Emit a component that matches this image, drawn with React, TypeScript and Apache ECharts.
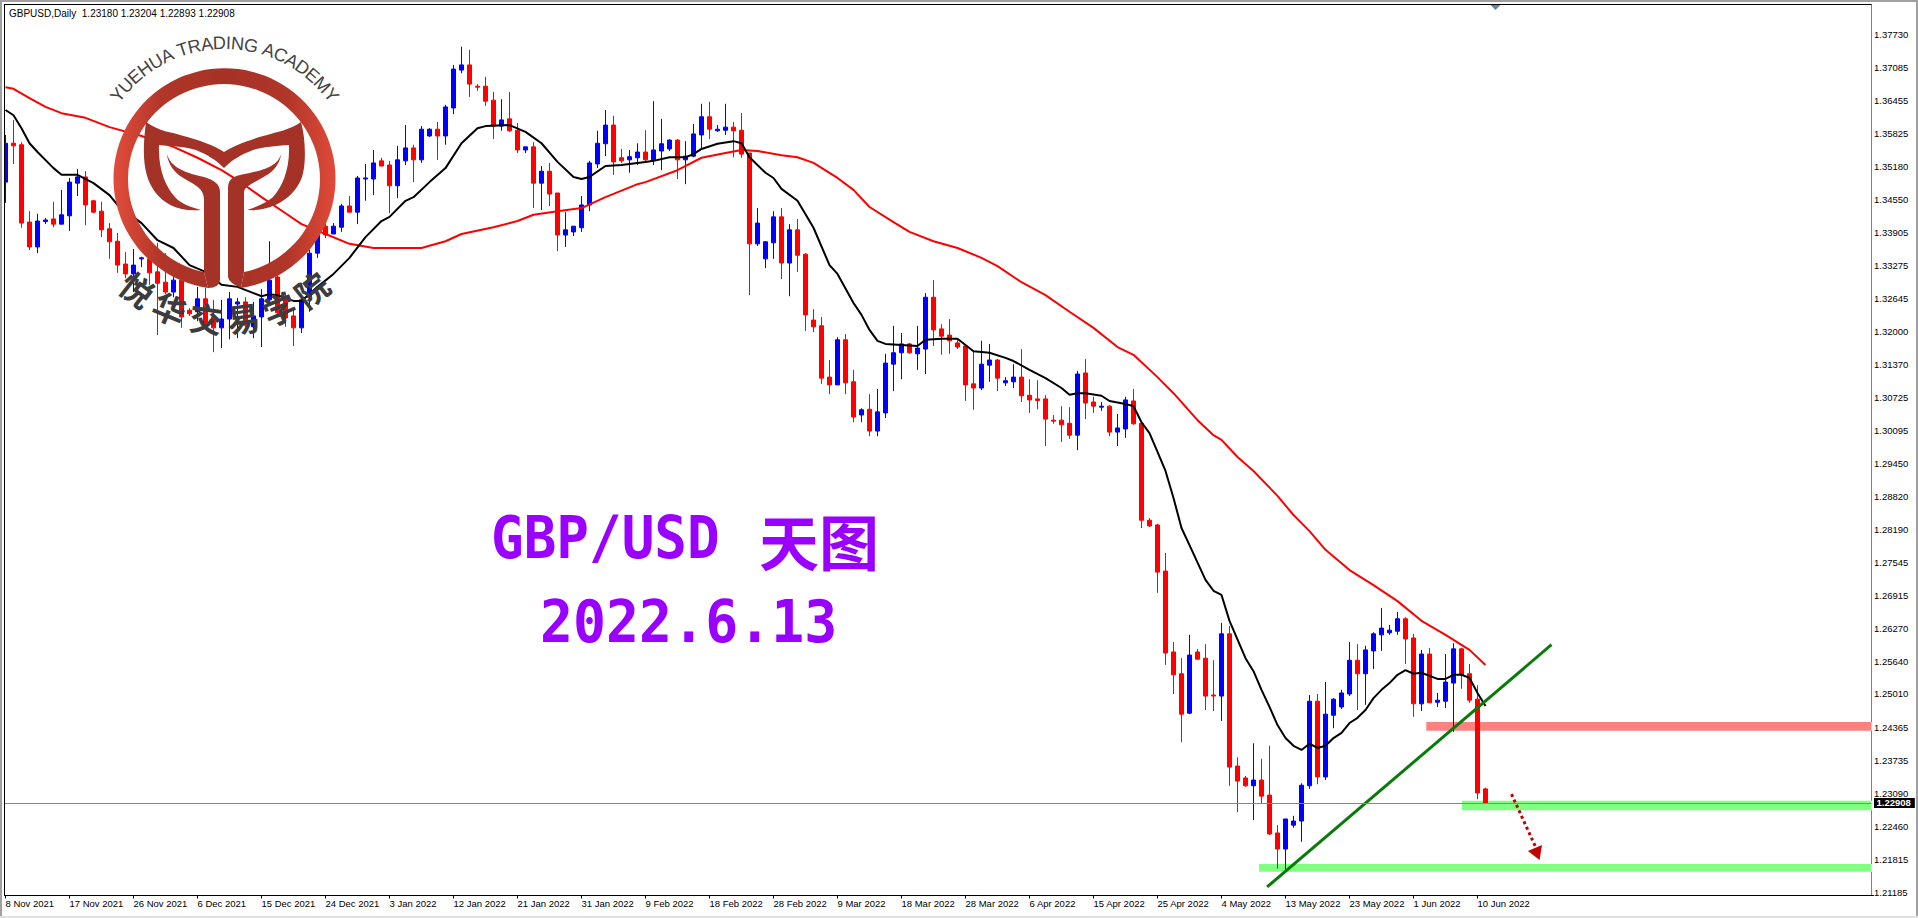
import React, { useEffect, useRef } from "react";
import * as echarts from "echarts";

// ---- daily candles (body top / bottom, wick high / low) ----
const directions =
  "BRRRBBRBBB" + "RRRRRRBBRR" + "RBRRBRRBBB" + "RBBBRRRBBB" + "RBBRBBBRRB" +
  "BRBBRBBBRR" + "RRBRRBRBRR" + "BBBBBBRRBB" + "RBBBRBBBRB" + "BRRRBBBRBR" +
  "RRRRBRRBRB" + "BBBRBBRRRR" + "RRBBRBBRRR" + "RRRRBRRBRB" + "BRRRRRRRBR" +
  "RRBRRRBRRR" + "BBBBRBBBBR" + "BBBBBRRBRB" + "BBRRRR";

const highs = [
  1.3579,1.3608,1.3565,1.3432,1.3427,1.3419,1.3450,1.3473,1.3496,1.3513,
  1.3509,1.3454,1.3450,1.3409,1.3390,1.3353,1.3359,1.3344,1.3346,1.3371,
  1.3351,1.3324,1.3328,1.3245,1.3286,1.3284,1.3261,1.3261,1.3276,1.3265,
  1.3266,1.3257,1.3282,1.3374,1.3319,1.3274,1.3245,1.3270,1.3357,1.3400,
  1.3411,1.3409,1.3446,1.3461,1.3500,1.3523,1.3550,1.3535,1.3529,1.3558,
  1.3598,1.3560,1.3596,1.3592,1.3604,1.3637,1.3714,1.3749,1.3743,1.3677,
  1.3691,1.3662,1.3648,1.3662,1.3602,1.3556,1.3565,1.3519,1.3525,1.3467,
  1.3430,1.3403,1.3461,1.3529,1.3587,1.3627,1.3616,1.3552,1.3550,1.3563,
  1.3588,1.3644,1.3610,1.3571,1.3571,1.3567,1.3600,1.3639,1.3643,1.3598,
  1.3639,1.3604,1.3621,1.3544,1.3438,1.3374,1.3432,1.3438,1.3407,1.3417,
  1.3351,1.3243,1.3228,1.3145,1.3189,1.3195,1.3126,1.3052,1.3079,1.3089,
  1.3157,1.3211,1.3197,1.3178,1.3211,1.3274,1.3299,1.3214,1.3224,1.3185,
  1.3174,1.3164,1.3182,1.3176,1.3147,1.3112,1.3137,1.3166,1.3108,1.3106,
  1.3077,1.3039,1.3056,1.3054,1.3124,1.3147,1.3074,1.3064,1.3058,1.3041,
  1.3074,1.3089,1.3023,1.2840,1.2829,1.2773,1.2601,1.2570,1.2615,1.2588,
  1.2597,1.2566,1.2638,1.2632,1.2379,1.2343,1.2406,1.2376,1.2401,1.2248,
  1.2260,1.2266,1.2329,1.2499,1.2501,1.2524,1.2493,1.2509,1.2601,1.2597,
  1.2594,1.2620,1.2667,1.2634,1.2659,1.2649,1.2617,1.2586,1.2590,1.2503,
  1.2578,1.2599,1.2590,1.2559,1.2518,1.23204,
];
const bodyTops = [
  1.3563,1.3563,1.3560,1.3411,1.3413,1.3415,1.3417,1.3425,1.3488,1.3498,
  1.3498,1.3452,1.3432,1.3398,1.3374,1.3330,1.3328,1.3342,1.3340,1.3315,
  1.3295,1.3299,1.3299,1.3241,1.3263,1.3263,1.3228,1.3224,1.3263,1.3257,
  1.3257,1.3230,1.3263,1.3299,1.3305,1.3261,1.3230,1.3261,1.3351,1.3386,
  1.3403,1.3403,1.3442,1.3442,1.3496,1.3496,1.3525,1.3529,1.3521,1.3531,
  1.3554,1.3554,1.3590,1.3590,1.3590,1.3633,1.3706,1.3714,1.3714,1.3673,
  1.3673,1.3646,1.3608,1.3610,1.3588,1.3556,1.3556,1.3509,1.3509,1.3467,
  1.3396,1.3403,1.3444,1.3525,1.3563,1.3598,1.3598,1.3535,1.3537,1.3546,
  1.3546,1.3550,1.3562,1.3569,1.3569,1.3538,1.3581,1.3614,1.3614,1.3590,
  1.3594,1.3594,1.3588,1.3544,1.3409,1.3373,1.3421,1.3421,1.3396,1.3396,
  1.3349,1.3222,1.3211,1.3112,1.3184,1.3184,1.3103,1.3049,1.3050,1.3045,
  1.3139,1.3159,1.3176,1.3176,1.3168,1.3266,1.3266,1.3205,1.3193,1.3178,
  1.3172,1.3099,1.3137,1.3145,1.3145,1.3105,1.3112,1.3112,1.3077,1.3070,
  1.3070,1.3029,1.3029,1.3023,1.3118,1.3120,1.3064,1.3056,1.3056,1.3014,
  1.3068,1.3066,1.3023,1.2836,1.2827,1.2738,1.2582,1.2540,1.2576,1.2582,
  1.2570,1.2499,1.2617,1.2617,1.2362,1.2339,1.2335,1.2335,1.2306,1.2233,
  1.2260,1.2256,1.2325,1.2487,1.2487,1.2462,1.2491,1.2503,1.2566,1.2566,
  1.2586,1.2617,1.2628,1.2624,1.2646,1.2646,1.2609,1.2578,1.2578,1.2489,
  1.2524,1.2588,1.2588,1.2540,1.2491,1.23180,
];
const bodyBottoms = [
  1.3488,1.3558,1.3409,1.3363,1.3363,1.3412,1.3407,1.3407,1.3423,1.3486,
  1.3444,1.3430,1.3396,1.3373,1.3328,1.3311,1.3311,1.3340,1.3313,1.3293,
  1.3276,1.3276,1.3228,1.3234,1.3238,1.3216,1.3207,1.3207,1.3224,1.3253,
  1.3212,1.3209,1.3228,1.3261,1.3236,1.3226,1.3207,1.3207,1.3266,1.3351,
  1.3386,1.3388,1.3401,1.3430,1.3430,1.3494,1.3494,1.3519,1.3481,1.3481,
  1.3529,1.3531,1.3531,1.3577,1.3577,1.3577,1.3631,1.3704,1.3677,1.3671,
  1.3644,1.3596,1.3596,1.3587,1.3550,1.3550,1.3486,1.3486,1.3465,1.3386,
  1.3386,1.3392,1.3400,1.3444,1.3523,1.3562,1.3527,1.3529,1.3531,1.3535,
  1.3531,1.3531,1.3548,1.3552,1.3531,1.3531,1.3538,1.3579,1.3590,1.3587,
  1.3588,1.3587,1.3542,1.3369,1.3369,1.3340,1.3371,1.3332,1.3332,1.3347,
  1.3232,1.3209,1.3110,1.3097,1.3097,1.3101,1.3035,1.3039,1.3008,1.3008,
  1.3043,1.3137,1.3159,1.3159,1.3157,1.3166,1.3203,1.3191,1.3182,1.3170,
  1.3097,1.3091,1.3091,1.3135,1.3110,1.3101,1.3103,1.3076,1.3068,1.3067,
  1.3031,1.3027,1.3020,1.3000,1.3000,1.3062,1.3056,1.3054,1.3006,1.3006,
  1.3012,1.3022,1.2836,1.2825,1.2736,1.2580,1.2538,1.2462,1.2464,1.2568,
  1.2497,1.2497,1.2497,1.2360,1.2333,1.2324,1.2324,1.2304,1.2231,1.2202,
  1.2202,1.2248,1.2256,1.2324,1.2341,1.2341,1.2460,1.2476,1.2501,1.2540,
  1.2540,1.2584,1.2615,1.2619,1.2622,1.2607,1.2482,1.2482,1.2484,1.2485,
  1.2487,1.2522,1.2538,1.2489,1.2310,1.22908,
];
const lows = [
  1.3448,1.3523,1.3400,1.3357,1.3351,1.3407,1.3401,1.3407,1.3394,1.3461,
  1.3405,1.3428,1.3382,1.3340,1.3313,1.3303,1.3276,1.3324,1.3290,1.3193,
  1.3272,1.3266,1.3207,1.3230,1.3220,1.3207,1.3160,1.3168,1.3185,1.3187,
  1.3207,1.3187,1.3170,1.3253,1.3228,1.3209,1.3172,1.3197,1.3238,1.3342,
  1.3380,1.3388,1.3392,1.3430,1.3407,1.3452,1.3463,1.3519,1.3428,1.3457,
  1.3521,1.3488,1.3525,1.3575,1.3531,1.3560,1.3619,1.3698,1.3652,1.3664,
  1.3635,1.3571,1.3587,1.3585,1.3544,1.3544,1.3438,1.3434,1.3442,1.3355,
  1.3363,1.3384,1.3392,1.3432,1.3515,1.3538,1.3502,1.3525,1.3506,1.3521,
  1.3527,1.3521,1.3511,1.3548,1.3494,1.3484,1.3536,1.3550,1.3571,1.3585,
  1.3579,1.3536,1.3535,1.3270,1.3365,1.3322,1.3340,1.3301,1.3268,1.3315,
  1.3201,1.3199,1.3099,1.3079,1.3097,1.3079,1.3025,1.3025,1.2998,1.2998,
  1.3033,1.3085,1.3108,1.3157,1.3126,1.3118,1.3172,1.3155,1.3157,1.3166,
  1.3066,1.3049,1.3087,1.3103,1.3085,1.3095,1.3091,1.3064,1.3043,1.3050,
  1.2979,1.3022,1.2987,1.2993,1.2971,1.3031,1.3043,1.3047,1.2998,1.2979,
  1.2995,1.3020,1.2821,1.2823,1.2696,1.2557,1.2501,1.2408,1.2462,1.2568,
  1.2470,1.2468,1.2449,1.2324,1.2273,1.2322,1.2258,1.2289,1.2229,1.2164,
  1.2156,1.2243,1.2216,1.2318,1.2327,1.2335,1.2435,1.2472,1.2497,1.2470,
  1.2480,1.2549,1.2584,1.2615,1.2615,1.2559,1.2457,1.2468,1.2484,1.2476,
  1.2474,1.2428,1.2511,1.2484,1.2298,1.22893,
];

// ---- moving averages at these bars: [bar, price] ----
const blackMa: [number, number][] = [
  [0,1.3627],[1,1.3617],[2,1.3592],[3,1.3563],[4,1.3546],[6,1.3515],[7,1.3502],[9,1.3502],[11,1.3486],[13,1.3463],
  [14,1.3444],[17,1.3409],[19,1.3376],[21,1.3361],[23,1.3328],[25,1.3315],[27,1.3290],[29,1.3286],[31,1.3274],[32,1.3268],
  [33,1.3272],[34,1.3270],[36,1.3259],[37,1.3259],[39,1.3286],[41,1.3311],[43,1.3342],[45,1.3382],[47,1.3413],[48,1.3421],
  [50,1.3452],[51,1.3459],[53,1.3488],[55,1.3515],[57,1.3563],[59,1.3592],[60,1.3596],[63,1.3598],[65,1.3585],[67,1.3563],
  [69,1.3527],[71,1.3498],[72,1.3494],[73,1.3498],[75,1.3519],[77,1.3521],[79,1.3525],[80,1.3527],[81,1.3529],[83,1.3536],
  [85,1.3536],[86,1.3542],[87,1.3552],[89,1.3562],[91,1.3567],[92,1.3563],[93,1.3536],[95,1.3506],[96,1.3496],[97,1.3475],
  [99,1.3452],[101,1.3400],[103,1.3328],[104,1.3311],[106,1.3255],[107,1.3232],[108,1.3203],[109,1.3182],[110,1.3176],[112,1.3174],
  [114,1.3172],[115,1.3184],[117,1.3186],[119,1.3186],[121,1.3162],[123,1.3159],[125,1.3149],[126,1.3143],[128,1.3126],[130,1.3110],
  [132,1.3091],[133,1.3078],[134,1.3081],[135,1.3081],[137,1.3076],[138,1.3066],[140,1.3060],[141,1.3056],[142,1.3025],[143,1.3004],
  [144,1.2968],[145,1.2931],[146,1.2879],[147,1.2821],[148,1.2788],[150,1.2721],[151,1.2700],[152,1.2692],[153,1.2642],[155,1.2570],
  [156,1.2545],[157,1.2509],[158,1.2476],[159,1.2441],[160,1.2416],[161,1.2401],[162,1.2393],[163,1.2405],[164,1.2397],[165,1.2401],
  [166,1.2416],[167,1.2426],[168,1.2445],[169,1.2455],[170,1.2470],[171,1.2493],[172,1.2509],[173,1.2522],[174,1.2538],[175,1.2547],
  [176,1.2540],[177,1.2542],[178,1.2536],[179,1.2530],[180,1.2530],[181,1.2538],[182,1.2538],[183,1.2532],[184,1.2503],[185,1.2478],
];
const redMa: [number, number][] = [
  [0,1.3671],[1,1.3668],[3,1.3650],[5,1.3633],[7,1.3621],[10,1.3612],[13,1.3594],[17,1.3577],[21,1.3556],[24,1.3535],
  [27,1.3511],[29,1.3492],[32,1.3459],[35,1.3428],[37,1.3407],[40,1.3388],[43,1.3369],[46,1.3361],[52,1.3361],[55,1.3374],
  [57,1.3388],[61,1.3401],[64,1.3413],[66,1.3425],[69,1.3432],[72,1.3438],[75,1.3459],[79,1.3484],[80,1.3488],[84,1.3511],
  [87,1.3535],[90,1.3544],[92,1.3550],[94,1.3548],[97,1.3540],[99,1.3536],[101,1.3525],[104,1.3496],[106,1.3473],[108,1.3440],
  [111,1.3411],[113,1.3392],[116,1.3374],[119,1.3361],[122,1.3342],[124,1.3326],[127,1.3295],[130,1.3270],[133,1.3238],[136,1.3207],
  [139,1.3170],[141,1.3155],[144,1.3112],[146,1.3081],[149,1.3029],[151,1.3000],[152,1.2991],[154,1.2958],[156,1.2931],[159,1.2883],
  [161,1.2846],[163,1.2815],[165,1.2779],[168,1.2740],[171,1.2711],[174,1.2680],[177,1.2642],[180,1.2615],[183,1.2586],[185,1.2557],
];

// ---- axes ----
const dateLabels = [
  "8 Nov 2021","17 Nov 2021","26 Nov 2021","6 Dec 2021","15 Dec 2021","24 Dec 2021","3 Jan 2022","12 Jan 2022",
  "21 Jan 2022","31 Jan 2022","9 Feb 2022","18 Feb 2022","28 Feb 2022","9 Mar 2022","18 Mar 2022","28 Mar 2022",
  "6 Apr 2022","15 Apr 2022","25 Apr 2022","4 May 2022","13 May 2022","23 May 2022","1 Jun 2022","10 Jun 2022",
];
const priceTicks = [
  1.37730,1.37085,1.36455,1.35825,1.35180,1.34550,1.33905,1.33275,1.32645,1.32000,1.31370,1.30725,1.30095,1.29450,
  1.28820,1.28190,1.27545,1.26915,1.26270,1.25640,1.25010,1.24365,1.23735,1.23090,1.22460,1.21815,1.21185,
];
const lastPrice = 1.22908;
const headerText = "GBPUSD,Daily  1.23180 1.23204 1.22893 1.22908";

// ---- drawn annotations, in [bar, price] ----
const zones = [
  { from: 177.6, to: 233.5, high: 1.2447, low: 1.2430, color: "#ff8080" },
  { from: 182.06, to: 233.5, high: 1.2295, low: 1.2277, color: "#80ff80" },
  { from: 156.7, to: 233.5, high: 1.2173, low: 1.2158, color: "#80ff80" },
];
const trendLine: [number, number][] = [[157.7, 1.2129], [193.25, 1.2596]];
const arrowShaft: [number, number][] = [[188.25, 1.2308], [191.2, 1.2208]];
const arrowHead: [number, number][] = [[192.06, 1.2210], [190.3, 1.2198], [191.76, 1.2181]];

// ---- logo ----
const ringPath = "M208 288 A111 110.5 0 1 1 241 288 L244 272 A96 95 0 1 0 204 272 Z";
const cupPath =
  "M146 122 C160 132 172 132 180 135 C200 140 215 146 224 152 C233 146 248 140 267 135 C276 132 290 130 301 122 " +
  "C306 140 306 165 302 177 C296 195 275 212 247 210 C262 205 270 200 273 197 C282 187 290 170 289 145 " +
  "C275 146 262 147 253 150 C240 155 232 160 224 168 C216 160 208 155 196 150 C186 147 172 146 159 145 " +
  "C158 170 166 187 175 197 C180 203 190 207 201 210 C180 212 165 205 155 192 C145 178 141 160 146 122 Z";
const leftStemPath =
  "M166.5 153 C170 165 180 172 204 177 C214 180 220 184 220 192 L220 280 Q219 288 208 288 L204 272 L204 200 " +
  "C204 190 198 187 192 183 C180 176 170 172 166.5 153 Z";
const rightStemPath =
  "M281.6 153 C278 165 268 170 240 175 C232 177 228 180 228 188 L228 277 Q229 283 241 288 L244 272 L244 193 " +
  "C244 188 248 186 253 183 C265 176 278 172 281.6 153 Z";
echarts.graphic.registerShape("logoRing", echarts.graphic.extendPath(ringPath, {}));
echarts.graphic.registerShape("logoCup", echarts.graphic.extendPath(cupPath, {}));
echarts.graphic.registerShape("logoLeftStem", echarts.graphic.extendPath(leftStemPath, {}));
echarts.graphic.registerShape("logoRightStem", echarts.graphic.extendPath(rightStemPath, {}));

const logoEnglish = "YUEHUA TRADING ACADEMY";
const logoEnglishWidths = [.667,.722,.667,.722,.722,.667,.278,.611,.722,.667,.722,.278,.722,.778,.278,.667,.722,.667,.722,.667,.833,.667];
const logoChinese = "悦华交易学院";
const UI_FONT = "'Liberation Sans', Arial, sans-serif";

function logoElements() {
  const cx = 224.5, cy = 178;
  const brown = "#a53226";
  const els: any[] = [
    {
      type: "logoRing", z: 20, silent: true,
      style: {
        fill: new echarts.graphic.LinearGradient(0, 0, 1, 0, [
          { offset: 0, color: "#e34c3b" }, { offset: 0.22, color: "#b03628" },
          { offset: 0.5, color: "#a53226" }, { offset: 0.78, color: "#b03628" }, { offset: 1, color: "#e04a3a" },
        ]),
      },
    },
    { type: "logoCup", z: 20, silent: true, style: { fill: brown } },
    { type: "logoLeftStem", z: 20, silent: true, style: { fill: brown } },
    { type: "logoRightStem", z: 20, silent: true, style: { fill: brown } },
  ];
  const total = logoEnglishWidths.reduce((a, b) => a + b, 0);
  const fontSize = 18.2, r = 135;
  let run = -total / 2;
  logoEnglish.split("").forEach((ch, i) => {
    const w = logoEnglishWidths[i];
    const a = ((run + w / 2) * fontSize) / r; // clockwise angle from the top
    run += w;
    if (ch === " ") return;
    els.push({
      type: "text", z: 21, silent: true,
      x: cx + r * Math.sin(a), y: cy - r * Math.cos(a), rotation: -a,
      style: { text: ch, fontFamily: UI_FONT, fontSize, fill: "#444444", align: "center", verticalAlign: "middle" },
    });
  });
  const r2 = 141, step = (15.2 * Math.PI) / 180;
  logoChinese.split("").forEach((ch, i) => {
    const a = (i - 2.5) * step; // + = towards the right of the bottom
    els.push({
      type: "text", z: 21, silent: true,
      x: cx + r2 * Math.sin(a), y: cy + r2 * Math.cos(a), rotation: a,
      style: { text: ch, fontFamily: "'Noto Sans CJK SC'", fontWeight: 700, fontSize: 33, fill: "#3c3c3c", align: "center", verticalAlign: "middle" },
    });
  });
  return els;
}

function frameElements() {
  const rect = (x: number, y: number, width: number, height: number, fill: string, z = 15) => ({
    type: "rect", z, silent: true, shape: { x, y, width, height }, style: { fill },
  });
  return [
    rect(0, 0, 4, 918, "#ffffff"),       // keeps the first candle behind the frame
    rect(1871.5, 0, 2.5, 895, "#ffffff"), // space between the plot end and the price axis
    rect(0, 0, 1918, 2, "#a0a0a0"),
    rect(0, 0, 2, 918, "#a0a0a0"),
    rect(1916, 0, 2, 918, "#a0a0a0"),
    rect(0, 916, 1918, 2, "#e0e0e0"),
    rect(4, 4, 1867.5, 1, "#000000"),
    rect(4, 4, 1, 892, "#000000"),
    {
      type: "polygon", z: 16, silent: true,
      shape: { points: [[1490.5, 5], [1500.5, 5], [1495.5, 10]] }, style: { fill: "#708090" },
    },
  ];
}

function titleElements() {
  const purple = "#9900ff";
  const mono = {
    fontFamily: "'DejaVu Sans Mono', monospace", fontWeight: 700, fontSize: 59, fill: purple,
    align: "left", verticalAlign: "bottom",
  };
  return [
    { type: "text", z: 18, silent: true, x: 491, y: 567, scaleX: 0.92, style: { ...mono, text: "GBP/USD" } },
    { type: "text", z: 18, silent: true, x: 540, y: 651, scaleX: 0.93, style: { ...mono, text: "2022.6.13" } },
    {
      type: "text", z: 18, silent: true, x: 759, y: 569,
      style: { text: "天图", fontFamily: "'Noto Sans CJK SC'", fontWeight: 700, fontSize: 60, fill: purple, align: "left", verticalAlign: "bottom" },
    },
    {
      type: "text", z: 18, silent: true, x: 9, y: 13,
      style: { text: headerText, fontFamily: UI_FONT, fontSize: 10, fill: "#000000", align: "left", verticalAlign: "middle" },
    },
  ];
}

function sparse(points: [number, number][], n: number) {
  const out: (number | null)[] = new Array(n).fill(null);
  points.forEach(([i, v]) => { out[i] = v; });
  return out;
}

const BAR_SLOTS = 234;

export default function App() {
  const ref = useRef<HTMLDivElement>(null);
  useEffect(() => {
    document.body.style.margin = "0";
    document.body.style.background = "#ffffff";
    const chart = echarts.init(ref.current!, undefined, { renderer: "svg" });
    const categories = Array.from({ length: BAR_SLOTS }, (_, i) => String(i));
    const isLabelled = (i: number) => i % 8 === 0 && i <= 184;
    const candles = highs.map((h, i) => {
      const up = directions[i] === "B";
      const open = up ? bodyBottoms[i] : bodyTops[i];
      const close = up ? bodyTops[i] : bodyBottoms[i];
      return [open, close, lows[i], h];
    });
    chart.setOption({
      animation: false,
      backgroundColor: "#ffffff",
      grid: { left: 1.5, top: 4.5, width: BAR_SLOTS * 8, height: 891, containLabel: false },
      xAxis: [
        {
          type: "category", data: categories, boundaryGap: true, position: "bottom",
          axisLine: { show: true, lineStyle: { color: "#000", width: 1 } },
          axisTick: { show: true, alignWithLabel: true, length: 3, interval: (i: number) => isLabelled(i), lineStyle: { color: "#000" } },
          axisLabel: {
            show: true, interval: (i: number) => isLabelled(i),
            formatter: (_: string, i: number) => (isLabelled(i) ? dateLabels[i / 8] : ""),
            align: "left", margin: 3, fontFamily: UI_FONT, fontSize: 9.5, color: "#000",
          },
          splitLine: { show: false },
        },
        { type: "value", min: -0.5, max: BAR_SLOTS - 0.5, show: false, position: "bottom" },
      ],
      yAxis: {
        type: "value", position: "right", offset: -2.5, min: 1.21124, max: 1.38305, scale: true,
        axisLine: { show: true, onZero: false, lineStyle: { color: "#000", width: 1 } },
        axisTick: { show: true, length: 3, customValues: priceTicks, lineStyle: { color: "#000" } },
        axisLabel: {
          show: true, customValues: priceTicks, margin: 3,
          formatter: (v: number) => v.toFixed(5),
          fontFamily: UI_FONT, fontSize: 9.5, color: "#000",
        },
        splitLine: { show: false },
      },
      graphic: { elements: [...frameElements(), ...titleElements(), ...logoElements()] },
      series: [
        {
          type: "custom", xAxisIndex: 1, yAxisIndex: 0, z: 1, silent: true, clip: false,
          data: zones.map((z) => [z.from, z.high, z.to, z.low]),
          renderItem: (params: any, api: any) => {
            const a = api.coord([api.value(0), api.value(1)]);
            const b = api.coord([api.value(2), api.value(3)]);
            return {
              type: "rect",
              shape: { x: a[0], y: a[1], width: b[0] - a[0], height: b[1] - a[1] },
              style: { fill: zones[params.dataIndex].color },
            };
          },
        },
        {
          type: "candlestick", xAxisIndex: 0, yAxisIndex: 0, z: 2, barWidth: 4, silent: true,
          data: candles,
          itemStyle: { color: "#0000ff", borderColor: "#0000ff", color0: "#ff0000", borderColor0: "#ff0000", borderWidth: 1 },
          markLine: {
            silent: true, symbol: "none", animation: false, precision: 5,
            lineStyle: { color: "#808890", width: 1, type: "solid" },
            label: {
              show: true, position: "end", formatter: lastPrice.toFixed(5), color: "#ffffff", backgroundColor: "#000000",
              padding: [0, 4, 0, 3], distance: 0, fontFamily: UI_FONT, fontSize: 9.5, fontWeight: 700,
            },
            data: [{ yAxis: lastPrice }],
          },
        },
        {
          type: "line", xAxisIndex: 0, yAxisIndex: 0, z: 3, silent: true, connectNulls: true, symbol: "none",
          lineStyle: { color: "#ff0000", width: 2 }, data: sparse(redMa, BAR_SLOTS),
        },
        {
          type: "line", xAxisIndex: 0, yAxisIndex: 0, z: 3, silent: true, connectNulls: true, symbol: "none",
          lineStyle: { color: "#000000", width: 2 }, data: sparse(blackMa, BAR_SLOTS),
        },
        {
          type: "line", xAxisIndex: 1, yAxisIndex: 0, z: 4, silent: true, symbol: "none",
          lineStyle: { color: "#0a7a0a", width: 3 }, data: trendLine,
        },
        {
          type: "line", xAxisIndex: 1, yAxisIndex: 0, z: 4, silent: true, symbol: "none",
          lineStyle: { color: "#c00000", width: 3, type: [3, 3] }, data: arrowShaft,
        },
        {
          type: "custom", xAxisIndex: 1, yAxisIndex: 0, z: 4, silent: true,
          data: arrowHead,
          renderItem: (params: any, api: any) =>
            params.dataIndex === 0
              ? { type: "polygon", shape: { points: arrowHead.map((p) => api.coord(p)) }, style: { fill: "#c00000" } }
              : null,
        },
      ],
    });
    return () => chart.dispose();
  }, []);
  return <div ref={ref} style={{ position: "fixed", left: 0, top: 0, width: 1918, height: 918 }} />;
}
